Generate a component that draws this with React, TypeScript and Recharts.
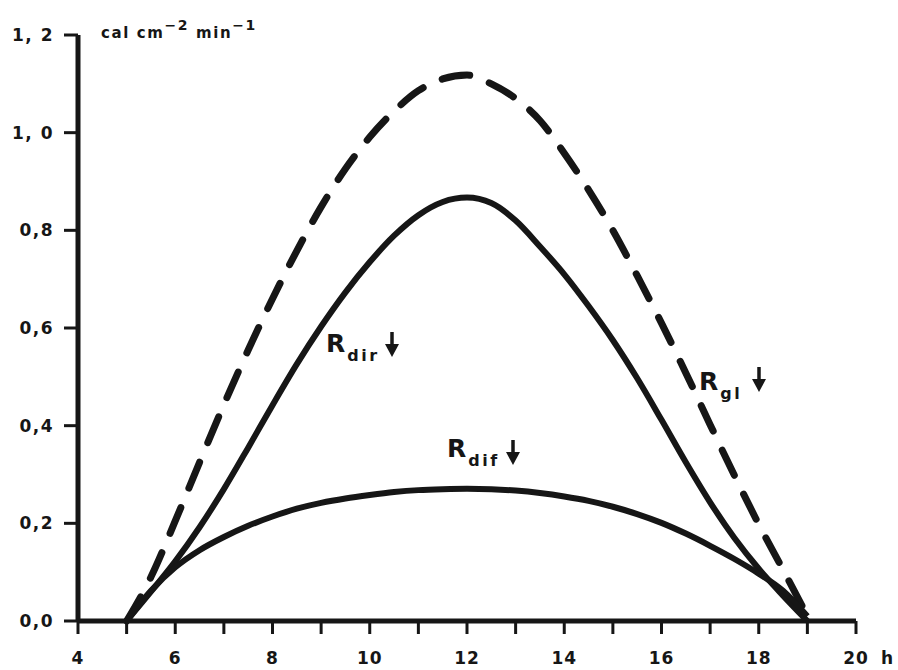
import { Line, LineChart, XAxis, YAxis } from 'recharts'

// half-hourly radiation on a clear day, cal cm-2 min-1
const hours = [
  5, 5.5, 6, 6.5, 7, 7.5, 8, 8.5, 9, 9.5, 10, 10.5, 11, 11.5, 12,
  12.5, 13, 13.5, 14, 14.5, 15, 15.5, 16, 16.5, 17, 17.5, 18, 18.5, 19,
]
const globalRad = [
  0, 0.09, 0.205, 0.325, 0.443, 0.555, 0.66, 0.758, 0.848, 0.926, 0.991, 1.044, 1.086, 1.11, 1.118,
  1.1, 1.07, 1.025, 0.958, 0.883, 0.8, 0.707, 0.61, 0.508, 0.402, 0.298, 0.198, 0.105, 0.01,
]
const directRad = [
  0, 0.06, 0.122, 0.192, 0.27, 0.355, 0.442, 0.526, 0.603, 0.673, 0.735, 0.789, 0.831, 0.858, 0.867,
  0.856, 0.82, 0.767, 0.71, 0.645, 0.575, 0.497, 0.412, 0.325, 0.243, 0.17, 0.107, 0.052, 0,
]
const diffuseRad = [
  0, 0.062, 0.11, 0.145, 0.172, 0.195, 0.214, 0.23, 0.242, 0.251, 0.258, 0.264, 0.268, 0.27, 0.271,
  0.27, 0.267, 0.262, 0.255, 0.246, 0.234, 0.219, 0.201, 0.179, 0.154, 0.127, 0.097, 0.062, 0.01,
]

const xTicks = [4, 5, 6, 7, 8, 9, 10, 11, 12, 13, 14, 15, 16, 17, 18, 19, 20]
const yTicks = [0, 0.2, 0.4, 0.6, 0.8, 1.0, 1.2]
const yTickLabels = ['0,0', '0,2', '0,4', '0,6', '0,8', '1, 0', '1, 2']

const data = hours.map((hour, i) => ({
  hour,
  gl: globalRad[i],
  dir: directRad[i],
  dif: diffuseRad[i],
}))

const INK = '#161616'
const FONT = '"DejaVu Sans", sans-serif'

function HourTick({ x, y, payload }: any) {
  const v = payload.value as number
  if (v % 2 !== 0) return null
  return (
    <g fontFamily={FONT} fontWeight="bold" fontSize={17} fill={INK} letterSpacing={1}>
      <text x={x} y={y} dy={28} textAnchor="middle">
        {v}
      </text>
      {v === 20 && (
        <text x={x + 25} y={y} dy={28}>
          h
        </text>
      )}
    </g>
  )
}

function ValueTick({ x, y, payload }: any) {
  const idx = yTicks.indexOf(payload.value)
  return (
    <text
      x={x}
      y={y}
      dy={6}
      textAnchor="end"
      fontFamily={FONT}
      fontWeight="bold"
      fontSize={17}
      letterSpacing={1.5}
      fill={INK}
    >
      {yTickLabels[idx]}
    </text>
  )
}

function CurveLabel({ x, y, sub }: { x: number; y: number; sub: string }) {
  return (
    <text x={x} y={y} fill={INK} fontFamily={FONT} fontWeight="bold" fontSize={25}>
      R
      <tspan dy={9} dx={2} fontSize={16} letterSpacing={2.5}>
        {sub}
      </tspan>
    </text>
  )
}

function DownArrow({ x, y }: { x: number; y: number }) {
  return (
    <g fill={INK}>
      <line x1={x} y1={y} x2={x} y2={y + 15} stroke={INK} strokeWidth={3.5} />
      <path d={`M${x - 7},${y + 12} L${x + 7},${y + 12} L${x},${y + 25} Z`} />
    </g>
  )
}

export default function App() {
  return (
    <div style={{ position: 'absolute', left: 0, top: 0, width: 898, height: 670, background: '#fff' }}>
      <LineChart width={898} height={670} data={data} margin={{ top: 35, right: 42, bottom: 0, left: 0 }}>
        <XAxis
          dataKey="hour"
          type="number"
          domain={[4, 20]}
          ticks={xTicks}
          interval={0}
          height={49}
          tickSize={13}
          tickMargin={2}
          axisLine={{ stroke: INK, strokeWidth: 5 }}
          tickLine={{ stroke: INK, strokeWidth: 3 }}
          tick={<HourTick />}
        />
        <YAxis
          type="number"
          domain={[0, 1.2]}
          ticks={yTicks}
          interval={0}
          width={78}
          tickSize={14}
          tickMargin={10}
          axisLine={{ stroke: INK, strokeWidth: 5 }}
          tickLine={{ stroke: INK, strokeWidth: 3 }}
          tick={<ValueTick />}
        />
        <Line
          dataKey="gl"
          type="monotone"
          stroke={INK}
          strokeWidth={7}
          strokeDasharray="28 21"
          strokeLinecap="round"
          dot={false}
          isAnimationActive={false}
        />
        <Line dataKey="dir" type="monotone" stroke={INK} strokeWidth={6} dot={false} isAnimationActive={false} />
        <Line dataKey="dif" type="monotone" stroke={INK} strokeWidth={6} dot={false} isAnimationActive={false} />
      </LineChart>
      <svg width={898} height={670} style={{ position: 'absolute', left: 0, top: 0, pointerEvents: 'none' }}>
        <text x={101} y={38} fill={INK} fontFamily={FONT} fontWeight="bold" fontSize={15} letterSpacing={1.6}>
          cal cm
          <tspan dy={-8} fontSize={14}>−2</tspan>
          <tspan dy={8}> min</tspan>
          <tspan dy={-8} fontSize={14}>−1</tspan>
        </text>
        <CurveLabel x={326} y={352} sub="dir" />
        <DownArrow x={392} y={332} />
        <CurveLabel x={447} y={457} sub="dif" />
        <DownArrow x={513} y={440} />
        <CurveLabel x={699} y={390} sub="gl" />
        <DownArrow x={759} y={367} />
      </svg>
    </div>
  )
}
